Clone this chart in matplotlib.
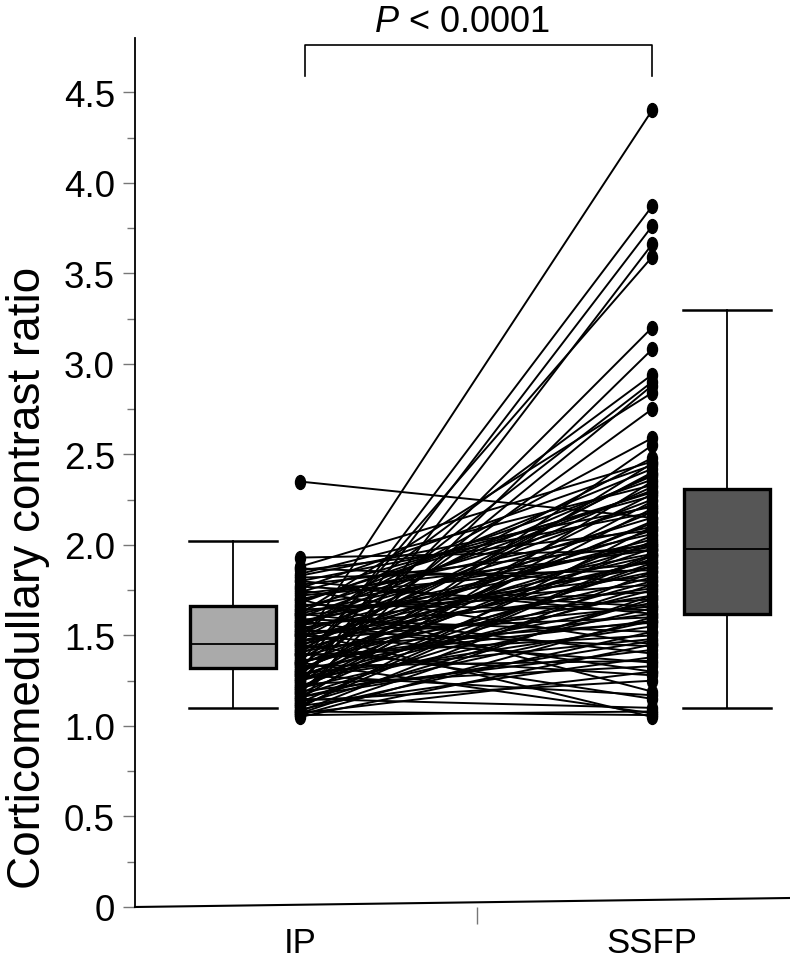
import numpy as np
import matplotlib
matplotlib.use("Agg")
import matplotlib.pyplot as plt
from matplotlib.path import Path
from matplotlib.lines import Line2D

plt.rcParams['font.family'] = ['Liberation Sans', 'DejaVu Sans']
plt.rcParams['mathtext.fontset'] = 'custom'
plt.rcParams['mathtext.it'] = 'Liberation Sans:italic'
plt.rcParams['mathtext.rm'] = 'Liberation Sans'

categories = ["IP", "SSFP"]

ip_vals = [
    1.44, 1.30, 1.22, 1.12, 1.35, 1.25, 1.18, 1.50, 1.40, 1.28, 1.62, 1.33, 1.55, 1.20,
    2.35, 1.93, 1.87, 1.80, 1.75, 1.70, 1.52, 1.45, 1.62, 1.58, 1.35, 1.28, 1.15, 1.08,
    1.06, 1.40, 1.50,
    1.05, 1.06, 1.07, 1.08, 1.09, 1.10, 1.11, 1.12, 1.13, 1.14, 1.15, 1.16, 1.17, 1.18,
    1.19, 1.20, 1.21, 1.22, 1.23, 1.24, 1.25, 1.26, 1.27, 1.28, 1.29, 1.30, 1.31, 1.32,
    1.33, 1.34, 1.35, 1.36, 1.37, 1.38, 1.39, 1.40, 1.41, 1.42, 1.43, 1.44, 1.45, 1.46,
    1.47, 1.48, 1.49, 1.50, 1.51, 1.52, 1.53, 1.54, 1.55, 1.56, 1.57, 1.58, 1.59, 1.60,
    1.61, 1.62, 1.63, 1.64, 1.65, 1.66, 1.67, 1.68, 1.70, 1.72, 1.74, 1.76, 1.78, 1.80,
    1.82, 1.84, 1.86, 1.88,
    1.07, 1.11, 1.16, 1.21, 1.26, 1.31, 1.36, 1.42, 1.47, 1.53, 1.57, 1.64, 1.69, 1.73,
    1.77, 1.83,
]
ssfp_vals = [
    4.40, 3.87, 3.76, 3.66, 3.59, 3.20, 3.08, 2.94, 2.90, 2.88, 2.84, 2.75, 2.59, 2.55,
    2.15, 1.97, 1.80, 1.62, 1.45, 1.19, 1.05, 1.15, 1.40, 1.30, 1.07, 1.17, 1.10, 1.06,
    1.08, 1.28, 1.35,
    1.45, 1.60, 1.30, 1.85, 1.52, 2.10, 1.38, 1.70, 1.95, 1.25, 2.35, 1.58, 1.78, 2.02,
    1.42, 2.20, 1.65, 1.90, 1.33, 2.45, 1.75, 1.55, 2.05, 1.88, 1.48, 2.28, 1.68, 1.98,
    1.36, 2.12, 1.82, 1.62, 2.40, 1.92, 1.50, 2.18, 1.72, 2.00, 1.57, 2.32, 1.85, 2.08,
    1.66, 2.48, 1.94, 1.76, 2.25, 1.60, 2.03, 1.88, 2.38, 1.70, 2.15, 1.95, 1.52, 2.30,
    1.83, 2.06, 2.42, 1.74, 2.22, 1.99, 1.64, 2.36, 2.10, 1.90, 2.27, 2.44, 2.00, 2.18,
    1.86, 2.33, 2.08, 2.46,
    1.72, 1.94, 1.47, 2.24, 1.80, 2.13, 1.58, 2.39, 1.91, 1.44, 2.01, 1.78, 2.29, 1.97,
    1.66, 2.21,
]

# box summaries: whisker low, Q1, median, Q3, whisker high
ip_box = [1.10, 1.32, 1.45, 1.66, 2.02]
ssfp_box = [1.10, 1.62, 1.98, 2.31, 3.30]

fig = plt.figure(figsize=(7.9, 9.7), dpi=100)
ax = fig.add_axes([135 / 790, 62 / 970, 655 / 790, 869 / 970])

# tall ellipse marker
circ = Path.unit_circle()
ell = Path(circ.vertices * np.array([0.72, 1.0]), circ.codes)

for a, b in zip(ip_vals, ssfp_vals):
    ax.plot([1, 2], [a, b], color='black', lw=1.4, zorder=2,
            marker=ell, markersize=10, markerfacecolor='black', markeredgecolor='black')

stats = []
for s in (ip_box, ssfp_box):
    stats.append(dict(whislo=s[0], q1=s[1], med=s[2], q3=s[3], whishi=s[4], fliers=[]))
bp = ax.bxp(stats, positions=[0.81, 2.213], widths=0.243, patch_artist=True,
            showfliers=False,
            boxprops=dict(linewidth=2.4, edgecolor='black'),
            medianprops=dict(color='black', linewidth=1.3),
            whiskerprops=dict(color='black', linewidth=1.3),
            capprops=dict(color='black', linewidth=1.8),
            capwidths=0.25)
for patch, col in zip(bp['boxes'], ['#aaaaaa', '#565656']):
    patch.set_facecolor(col)

ax.set_xlim(0.531, 2.392)
ax.set_ylim(0, 4.80)

for sp in ('top', 'right', 'bottom'):
    ax.spines[sp].set_visible(False)
ax.spines['left'].set_linewidth(1.3)

# slightly tilted baseline as in the original
ax.add_line(Line2D([0, 1], [0, 9 / 869], transform=ax.transAxes, color='black',
                   lw=1.5, clip_on=False))

ax.set_yticks(np.arange(0, 4.51, 0.5))
ax.set_yticklabels(['0', '0.5', '1.0', '1.5', '2.0', '2.5', '3.0', '3.5', '4.0', '4.5'])
ax.set_yticks(np.arange(0.25, 4.5, 0.5), minor=True)
ax.tick_params(axis='y', which='major', length=8.5, width=1.0, color='#777777',
               labelsize=26.5, pad=6)
ax.tick_params(axis='y', which='minor', length=6, width=1.0, color='#777777')

ax.set_xticks([1, 2])
ax.set_xticklabels(categories)
ax.set_xticks([1.503], minor=True)
ax.tick_params(axis='x', which='major', length=0, labelsize=25, pad=14)
ax.tick_params(axis='x', which='minor', length=12, width=1.0, color='#777777')

fig.text(28 / 790, 1 - 578 / 970, 'Corticomedullary contrast ratio', fontsize=33,
         rotation=90, ha='center', va='center')

# significance bracket
ax.plot([1.014, 1.014, 2.0, 2.0], [4.59, 4.76, 4.76, 4.59], color='black', lw=1.2,
        clip_on=False)
ax.text(1.46, 4.89, r'$P$ < 0.0001', fontsize=26, ha='center', va='center')

fig.savefig('out.png', dpi=100)
